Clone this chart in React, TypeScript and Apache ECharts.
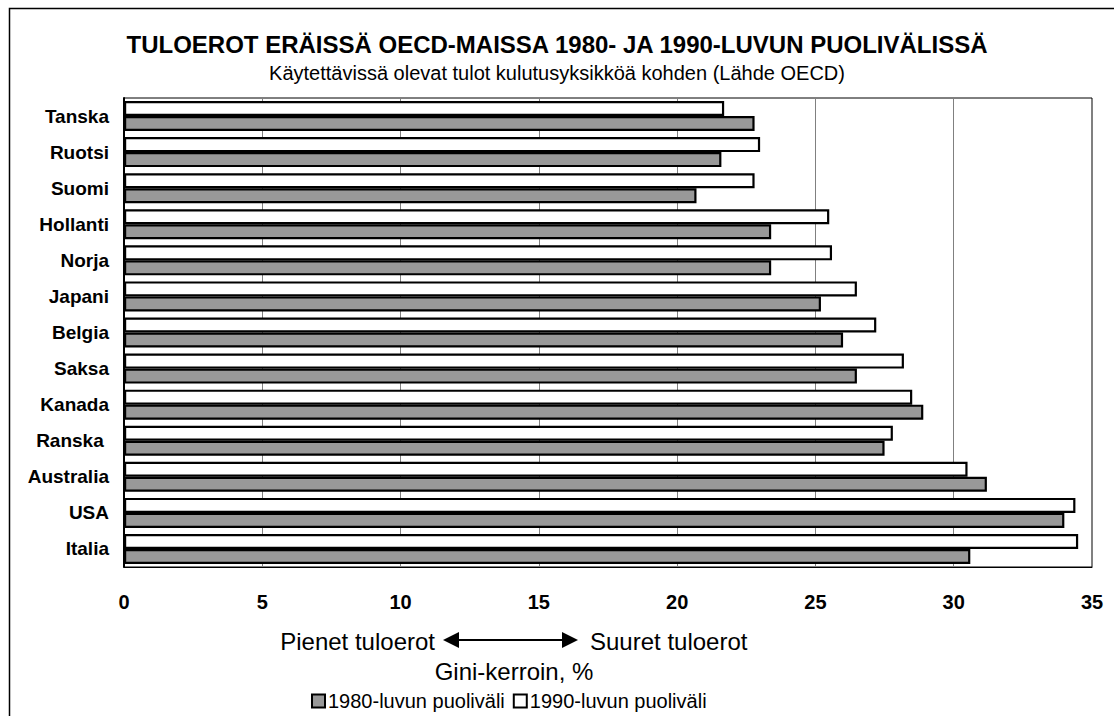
import React, { useEffect, useRef } from "react";
import * as echarts from "echarts";

const countries = [
  "Tanska", "Ruotsi", "Suomi", "Hollanti", "Norja", "Japani", "Belgia",
  "Saksa", "Kanada", "Ranska ", "Australia", "USA", "Italia",
];
const values1980 = [22.8, 21.6, 20.7, 23.4, 23.4, 25.2, 26.0, 26.5, 28.9, 27.5, 31.2, 34.0, 30.6];
const values1990 = [21.7, 23.0, 22.8, 25.5, 25.6, 26.5, 27.2, 28.2, 28.5, 27.8, 30.5, 34.4, 34.5];
const xTicks = { min: 0, max: 35, interval: 5 };
const name1980 = "1980-luvun puoliväli";
const name1990 = "1990-luvun puoliväli";
const titleText = "TULOEROT ERÄISSÄ OECD-MAISSA 1980- JA 1990-LUVUN PUOLIVÄLISSÄ";
const subtitleText = "Käytettävissä olevat tulot kulutusyksikköä kohden (Lähde OECD)";
const leftNote = "Pienet tuloerot";
const rightNote = "Suuret tuloerot";
const axisNote = "Gini-kerroin, %";

const FONT = "'Liberation Sans', Arial, sans-serif";

export default function App() {
  const ref = useRef<HTMLDivElement>(null);
  useEffect(() => {
    if (!ref.current) return;
    const chart = echarts.init(ref.current, undefined, { renderer: "svg" });
    chart.setOption({
      animation: false,
      backgroundColor: "#ffffff",
      textStyle: { fontFamily: FONT, color: "#000" },
      title: [
        {
          text: titleText,
          left: "center",
          top: 32,
          padding: 0,
          textStyle: { fontFamily: FONT, fontSize: 24, fontWeight: "bold", color: "#000" },
        },
        {
          text: subtitleText,
          left: "center",
          top: 63,
          padding: 0,
          textStyle: { fontFamily: FONT, fontSize: 20, fontWeight: "normal", color: "#000" },
        },
      ],
      legend: {
        data: [name1980, name1990],
        left: 311,
        top: 691,
        padding: 0,
        itemWidth: 13,
        itemHeight: 13,
        itemGap: 8,
        icon: "rect",
        textStyle: { fontFamily: FONT, fontSize: 20, color: "#000", padding: [0, 0, 0, -2] },
      },
      grid: {
        left: 124,
        right: 22,
        top: 98,
        bottom: 149,
        show: true,
        borderColor: "#000",
        borderWidth: 1,
        containLabel: false,
      },
      xAxis: {
        type: "value",
        min: xTicks.min,
        max: xTicks.max,
        interval: xTicks.interval,
        axisLine: { show: true, lineStyle: { color: "#000", width: 1 } },
        axisTick: { show: false },
        splitLine: { show: true, lineStyle: { color: "#808080", width: 1 } },
        axisLabel: {
          margin: 25,
          fontFamily: FONT,
          fontSize: 20,
          fontWeight: "bold",
          color: "#000",
        },
      },
      yAxis: {
        type: "category",
        inverse: true,
        data: countries,
        axisLine: { show: true, lineStyle: { color: "#000", width: 2 } },
        axisTick: { show: false },
        axisLabel: {
          margin: 15,
          fontFamily: FONT,
          fontSize: 19,
          fontWeight: "bold",
          color: "#000",
        },
      },
      series: [
        {
          name: name1990,
          type: "bar",
          data: values1990,
          barWidth: 15,
          barGap: "0%",
          itemStyle: { color: "#ffffff", borderColor: "#000", borderWidth: 2.2 },
        },
        {
          name: name1980,
          type: "bar",
          data: values1980,
          barWidth: 15,
          barGap: "0%",
          itemStyle: { color: "#999999", borderColor: "#000", borderWidth: 2.2 },
        },
      ],
      graphic: [
        {
          type: "rect",
          silent: true,
          shape: { x: 9.5, y: 8.5, width: 1300, height: 900 },
          style: { fill: "none", stroke: "#000", lineWidth: 1.5 },
        },
        {
          type: "text",
          x: 435,
          y: 641,
          style: {
            text: leftNote,
            align: "right",
            verticalAlign: "middle",
            font: `24px ${FONT}`,
            fill: "#000",
          },
        },
        {
          type: "line",
          shape: { x1: 452, y1: 640, x2: 569, y2: 640 },
          style: { stroke: "#000", lineWidth: 2 },
        },
        {
          type: "polygon",
          shape: { points: [[443, 640], [459, 632], [459, 648]] },
          style: { fill: "#000" },
        },
        {
          type: "polygon",
          shape: { points: [[578, 640], [562, 632], [562, 648]] },
          style: { fill: "#000" },
        },
        {
          type: "text",
          x: 590,
          y: 641,
          style: {
            text: rightNote,
            align: "left",
            verticalAlign: "middle",
            font: `24px ${FONT}`,
            fill: "#000",
          },
        },
        {
          type: "text",
          x: 514,
          y: 671,
          style: {
            text: axisNote,
            align: "center",
            verticalAlign: "middle",
            font: `24px ${FONT}`,
            fill: "#000",
          },
        },
      ],
    });
    return () => chart.dispose();
  }, []);
  return (
    <div
      ref={ref}
      style={{ position: "fixed", left: 0, top: 0, width: 1114, height: 716, overflow: "hidden" }}
    />
  );
}
